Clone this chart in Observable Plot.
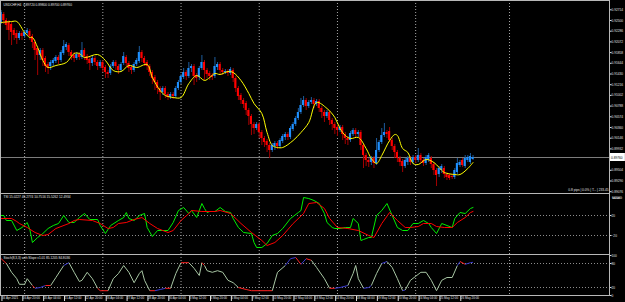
<!DOCTYPE html>
<html><head><meta charset="utf-8">
<script src="https://cdn.jsdelivr.net/npm/d3@7"></script>
<script src="https://cdn.jsdelivr.net/npm/@observablehq/plot@0.6"></script>
<style>
html,body{margin:0;padding:0;background:#000;}
#wrap{position:relative;width:625px;height:302px;overflow:hidden;background:#000;}
#wrap>div{position:absolute;left:0;}
svg{display:block;}
</style></head><body>
<div id="wrap"><div id="p0" style="top:0"></div><div id="p1" style="top:193px"></div><div id="p2" style="top:254px"></div></div>
<script>
// ---------- data (H4 bars, index 0 = first visible bar) ----------
const open = [0.9246,0.9262,0.9250,0.9246,0.9242,0.9230,0.9224,0.9214,0.9224,0.9218,
0.9224,0.9228,0.9218,0.9206,0.9194,0.9180,0.9190,0.9174,0.9162,0.9158,
0.9164,0.9168,0.9176,0.9170,0.9184,0.9196,0.9200,0.9186,0.9180,0.9174,
0.9182,0.9176,0.9190,0.9178,0.9172,0.9164,0.9174,0.9166,0.9158,0.9166,
0.9156,0.9146,0.9144,0.9158,0.9166,0.9158,0.9150,0.9164,0.9176,0.9164,
0.9156,0.9150,0.9162,0.9168,0.9186,0.9174,0.9166,0.9158,0.9146,0.9136,
0.9126,0.9114,0.9106,0.9114,0.9102,0.9096,0.9102,0.9098,0.9114,0.9126,
0.9136,0.9146,0.9138,0.9154,0.9158,0.9140,0.9136,0.9154,0.9166,0.9150,
0.9144,0.9140,0.9138,0.9156,0.9162,0.9150,0.9146,0.9148,0.9144,0.9150,
0.9134,0.9114,0.9100,0.9090,0.9084,0.9070,0.9058,0.9042,0.9034,0.9042,
0.9026,0.9014,0.9008,0.9000,0.8990,0.8998,0.9004,0.8998,0.9008,0.9016,
0.9022,0.9016,0.9032,0.9042,0.9054,0.9066,0.9080,0.9090,0.9078,0.9086,
0.9090,0.9082,0.9088,0.9074,0.9066,0.9058,0.9066,0.9050,0.9042,0.9036,
0.9030,0.9036,0.9022,0.9014,0.9010,0.9022,0.9030,0.9022,0.9026,0.9000,
0.8980,0.8970,0.8966,0.8974,0.8964,0.8990,0.9006,0.9020,0.9026,0.9028,
0.9010,0.8998,0.8986,0.8974,0.8968,0.8958,0.8966,0.8974,0.8966,0.8976,
0.8970,0.8980,0.8970,0.8964,0.8970,0.8974,0.8962,0.8950,0.8942,0.8950,
0.8954,0.8942,0.8940,0.8938,0.8936,0.8946,0.8960,0.8970,0.8958,0.8970,
0.8966,0.8972];
const close = [0.9266,0.9250,0.9240,0.9230,0.9226,0.9220,0.9214,0.9224,0.9218,0.9226,
0.9230,0.9218,0.9206,0.9190,0.9180,0.9190,0.9170,0.9158,0.9154,0.9166,
0.9170,0.9176,0.9170,0.9186,0.9198,0.9202,0.9186,0.9178,0.9174,0.9182,
0.9176,0.9190,0.9178,0.9170,0.9164,0.9174,0.9166,0.9158,0.9166,0.9154,
0.9146,0.9142,0.9158,0.9166,0.9158,0.9150,0.9162,0.9178,0.9164,0.9154,
0.9150,0.9162,0.9170,0.9186,0.9174,0.9164,0.9158,0.9146,0.9134,0.9126,
0.9114,0.9106,0.9114,0.9102,0.9096,0.9102,0.9098,0.9114,0.9126,0.9138,
0.9146,0.9138,0.9154,0.9158,0.9138,0.9134,0.9154,0.9166,0.9150,0.9142,
0.9138,0.9136,0.9158,0.9162,0.9150,0.9146,0.9148,0.9144,0.9152,0.9134,
0.9114,0.9098,0.9090,0.9082,0.9070,0.9058,0.9042,0.9034,0.9042,0.9026,
0.9014,0.9006,0.9000,0.8990,0.9000,0.9004,0.8998,0.9010,0.9018,0.9022,
0.9016,0.9034,0.9042,0.9054,0.9066,0.9080,0.9090,0.9078,0.9086,0.9090,
0.9082,0.9088,0.9074,0.9066,0.9058,0.9066,0.9050,0.9042,0.9034,0.9030,
0.9036,0.9022,0.9014,0.9010,0.9024,0.9030,0.9022,0.9026,0.9000,0.8980,
0.8970,0.8966,0.8974,0.8964,0.8990,0.9006,0.9020,0.9026,0.9022,0.9010,
0.8998,0.8986,0.8974,0.8966,0.8958,0.8970,0.8974,0.8966,0.8976,0.8970,
0.8980,0.8970,0.8964,0.8976,0.8980,0.8962,0.8950,0.8940,0.8954,0.8958,
0.8942,0.8936,0.8934,0.8936,0.8950,0.8964,0.8966,0.8960,0.8974,0.8976,
0.8978,0.8976];
const high = [0.9270,0.9266,0.9254,0.9250,0.9246,0.9234,0.9230,0.9228,0.9228,0.9230,
0.9234,0.9232,0.9222,0.9210,0.9198,0.9194,0.9194,0.9178,0.9166,0.9170,
0.9174,0.9180,0.9180,0.9190,0.9210,0.9206,0.9204,0.9190,0.9186,0.9186,
0.9186,0.9206,0.9194,0.9182,0.9176,0.9178,0.9178,0.9170,0.9170,0.9170,
0.9160,0.9150,0.9162,0.9170,0.9170,0.9162,0.9166,0.9186,0.9180,0.9168,
0.9160,0.9166,0.9174,0.9198,0.9190,0.9178,0.9170,0.9162,0.9150,0.9140,
0.9130,0.9118,0.9118,0.9118,0.9106,0.9106,0.9106,0.9118,0.9130,0.9142,
0.9154,0.9150,0.9166,0.9162,0.9162,0.9144,0.9158,0.9180,0.9170,0.9154,
0.9148,0.9144,0.9176,0.9166,0.9166,0.9154,0.9152,0.9152,0.9156,0.9154,
0.9138,0.9118,0.9104,0.9094,0.9088,0.9074,0.9062,0.9046,0.9046,0.9046,
0.9030,0.9018,0.9012,0.9004,0.9004,0.9008,0.9008,0.9014,0.9022,0.9026,
0.9026,0.9038,0.9046,0.9058,0.9074,0.9094,0.9098,0.9094,0.9090,0.9096,
0.9094,0.9092,0.9092,0.9078,0.9070,0.9070,0.9070,0.9054,0.9046,0.9040,
0.9040,0.9040,0.9026,0.9018,0.9028,0.9034,0.9034,0.9030,0.9030,0.9004,
0.8984,0.8974,0.8978,0.8978,0.9014,0.9010,0.9034,0.9044,0.9030,0.9036,
0.9014,0.9002,0.8990,0.8978,0.8972,0.8974,0.8978,0.8978,0.8980,0.8980,
0.8994,0.8984,0.8974,0.8980,0.8984,0.8978,0.8966,0.8954,0.8958,0.8962,
0.8958,0.8946,0.8944,0.8942,0.8954,0.8974,0.8970,0.8974,0.8980,0.8980,
0.8984,0.8980];
const low = [0.9242,0.9242,0.9230,0.9210,0.9200,0.9210,0.9202,0.9210,0.9210,0.9214,
0.9220,0.9210,0.9194,0.9170,0.9140,0.9170,0.9158,0.9146,0.9142,0.9150,
0.9158,0.9164,0.9162,0.9166,0.9180,0.9190,0.9178,0.9170,0.9166,0.9170,
0.9170,0.9172,0.9170,0.9162,0.9150,0.9158,0.9160,0.9150,0.9154,0.9146,
0.9134,0.9134,0.9140,0.9154,0.9150,0.9142,0.9146,0.9160,0.9158,0.9146,
0.9142,0.9146,0.9158,0.9164,0.9166,0.9158,0.9150,0.9138,0.9122,0.9110,
0.9102,0.9090,0.9100,0.9094,0.9090,0.9092,0.9092,0.9094,0.9110,0.9122,
0.9132,0.9130,0.9134,0.9146,0.9120,0.9126,0.9130,0.9150,0.9130,0.9134,
0.9130,0.9130,0.9134,0.9150,0.9140,0.9140,0.9142,0.9138,0.9140,0.9126,
0.9106,0.9090,0.9082,0.9074,0.9060,0.9040,0.9020,0.9022,0.9030,0.9014,
0.9000,0.8996,0.8986,0.8974,0.8986,0.8990,0.8992,0.8994,0.9004,0.9010,
0.9010,0.9012,0.9028,0.9038,0.9050,0.9062,0.9076,0.9070,0.9074,0.9082,
0.9074,0.9078,0.9066,0.9054,0.9046,0.9054,0.9040,0.9030,0.9022,0.9018,
0.9026,0.9010,0.9002,0.9000,0.9006,0.9018,0.9014,0.9016,0.8990,0.8954,
0.8958,0.8956,0.8960,0.8954,0.8960,0.8986,0.9002,0.9016,0.9014,0.9006,
0.8990,0.8974,0.8966,0.8958,0.8946,0.8954,0.8960,0.8960,0.8962,0.8964,
0.8966,0.8964,0.8958,0.8960,0.8966,0.8954,0.8940,0.8918,0.8936,0.8944,
0.8934,0.8930,0.8930,0.8932,0.8932,0.8942,0.8956,0.8956,0.8954,0.8966,
0.8962,0.8970];

// moving average (yellow), read at these bars
const maBar = [0,4,6,9,11,12,14,16,18,21,25,28,30,32,37,40,43,46,49,52,56,58,61,63,66,69,72,75,78,80,82,84,87,89,92,95,97,100,102,104,106,108,112,115,118,121,125,128,130,132,134,137,140,142,144,146,149,151,152,154,156,158,160,163,166,168,170,174,176,179,181];
const maValue = [0.9246,0.9248,0.9248,0.9226,0.9216,0.9216,0.9196,0.9170,0.9156,0.9160,0.9166,0.9184,0.9184,0.9176,0.9182,0.9170,0.9150,0.9148,0.9160,0.9156,0.9162,0.9136,0.9110,0.9100,0.9096,0.9096,0.9124,0.9140,0.9130,0.9136,0.9144,0.9142,0.9148,0.9146,0.9130,0.9104,0.9084,0.9064,0.9026,0.9000,0.8996,0.8996,0.9010,0.9026,0.9046,0.9086,0.9074,0.9056,0.9034,0.9020,0.9014,0.9016,0.8994,0.8974,0.8964,0.8980,0.9010,0.9022,0.9020,0.8994,0.8986,0.8964,0.8962,0.8972,0.8966,0.8956,0.8946,0.8942,0.8942,0.8954,0.8966];

// TSI panel
const tsiBar = [0,1,2,4,6,8,10,11,12,14,16,18,20,22,24,26,28,30,32,34,37,38,40,42,45,47,48,49,51,53,55,56,58,59,60,62,64,66,68,70,72,73,75,77,78,79,80,82,84,86,88,89,91,93,96,97,98,100,102,104,106,108,111,114,115,116,118,120,122,124,125,127,128,130,132,134,135,137,138,139,141,142,144,146,148,150,152,154,156,158,160,162,164,165,167,169,171,173,174,176,178,180,181];
const tsiValue = [20,20,10,10,-10,-4,6,-8,-34,-24,-16,-6,0,4,20,6,6,16,24,12,12,0,-16,0,10,16,26,14,10,20,24,-4,-22,-16,-10,-10,-10,6,30,36,24,30,16,44,34,26,28,28,36,28,26,14,-4,-14,-16,-34,-44,-44,-36,-20,-16,-6,14,26,30,56,54,50,44,24,6,-4,-6,-6,-4,-4,14,4,-30,-28,-24,-24,20,30,44,20,-4,-10,-10,4,4,10,4,-4,-16,4,0,-4,14,26,24,34,36];
const sigBar = [0,4,6,7,10,13,16,18,21,26,28,30,35,38,41,43,45,48,51,54,57,60,64,66,69,72,73,77,82,84,88,92,96,100,102,105,108,112,116,118,121,124,126,129,133,137,141,143,146,149,152,155,157,160,162,165,167,170,173,175,178,180,181];
const sigValue = [14,14,8,4,-4,-14,-20,-18,-6,4,10,12,10,4,-6,-4,4,6,12,16,4,-6,-14,-10,10,24,30,28,28,30,24,4,-14,-30,-40,-34,-20,4,24,44,46,34,14,-4,-6,-10,-20,-24,4,26,10,-4,-4,-2,4,4,-2,-4,-4,6,16,26,28];

// Stochastic panel
const stochBar = [0,2,4,6,7,9,10,12,13,15,17,19,21,24,26,28,30,31,33,35,37,38,41,43,45,47,49,51,53,54,55,57,59,61,63,65,67,69,72,74,76,77,78,79,81,83,85,87,89,91,94,96,99,102,104,106,109,111,113,115,117,119,121,124,126,128,130,133,135,136,137,139,141,142,144,146,148,150,152,154,155,157,159,161,163,165,167,169,171,173,175,176,178,180,181];
const stochValue = [92,80,58,42,28,28,42,25,18,20,25,25,45,75,82,58,35,38,58,42,18,12,12,42,55,75,58,32,55,62,38,12,12,15,18,18,55,82,82,68,50,82,75,62,58,62,58,38,32,20,15,12,12,12,12,58,75,92,95,78,92,88,70,42,18,18,20,25,55,75,42,18,20,25,55,80,85,70,42,12,14,38,48,58,58,38,12,38,45,45,75,85,78,82,83];

// axes / labels
const priceTicks = [0.92714,0.92500,0.92286,0.92072,0.91858,0.91644,0.91430,0.91216,0.91002,0.90788,0.90574,0.90360,0.90146,0.89932,0.89504,0.89290,0.89076];
const tsiTicks = [20,-20];
const stochTicks = [100,80,20,0];
const gridBars = [9,39,69,99,129,159,195];
const dateTickBars = [0,8,16,24,32,40,48,56,64,72,80,88,96,104,112,120,128,136,144,152,160,168,176];
const dateLabels = ["16 Apr 2021","16 Apr 20:00","20 Apr 04:00","21 Apr 12:00","22 Apr 20:00","26 Apr 04:00","27 Apr 12:00","28 Apr 20:00","30 Apr 04:00","3 May 12:00","4 May 20:00","6 May 04:00","7 May 12:00","10 May 20:00","12 May 04:00","13 May 12:00","14 May 20:00","18 May 04:00","19 May 12:00","20 May 20:00","24 May 04:00","25 May 12:00","26 May 20:00"];
const symbol = "USDCHF,H4";
const tsiTitle = "TSI 15.0227 46.2774 10.7516 15.5262 12.4934";
const stochTitle = "Stoch(8,3,3) with Slope v1.01 85.1205 84.8036";
const infoText = "0.8 pips | 0.0% | T... | 233.45";

// ---------- build ----------
const bars = close.map((c, i) => ({i, open: open[i], high: high[i], low: low[i], close: c}));
const last = bars[bars.length - 1];
const ma = maBar.map((b, k) => ({bar: b, value: maValue[k]}));
const tsi = tsiBar.map((b, k) => ({bar: b, value: tsiValue[k]}));
const sig = sigBar.map((b, k) => ({bar: b, value: sigValue[k]}));
const stoch = stochBar.map((b, k) => ({bar: b, value: stochValue[k]}));
const segs = d3.pairs(stoch).map(([a, b]) => {
  const zone = (a.value <= 25 && b.value <= 25) || (a.value >= 75 && b.value >= 75);
  return {a, b, color: zone ? (b.value > a.value ? "#3a3ad0" : "#ff2020") : "#a8c6a4"};
});
const labelByBar = new Map(dateTickBars.map((b, k) => [b, dateLabels[k]]));

const xDomain = [-0.25, 233.35];
const FS = 3.2;      // axis / title text
const FD = 3.0;      // date labels
const txt = "#e6e6e6";
const frameC = "#b8b8b8";
const gridMark = () => Plot.ruleX(gridBars, {stroke: "#a8a8a8", strokeDasharray: "1,2", strokeWidth: 1});
const baseStyle = {background: "#000", color: "#e0e0e0", fontFamily: "Liberation Sans, Arial, sans-serif", overflow: "visible"};
const title = `${symbol}  ${last.open.toFixed(5)} ${last.high.toFixed(5)} ${last.low.toFixed(5)} ${last.close.toFixed(5)}`;

const main = Plot.plot({
  width: 625, height: 193, margin: 0, marginRight: 16,
  x: {domain: xDomain, axis: null},
  y: {domain: [0.8904, 0.9290]},
  color: {type: "identity"},
  style: baseStyle,
  marks: [
    gridMark(),
    Plot.ruleY([last.close], {stroke: "#7c7c7c"}),
    Plot.ruleX(bars, {x: "i", y1: "low", y2: "high", stroke: d => d.close >= d.open ? "#1d5c9c" : "#a30000", strokeWidth: 1}),
    Plot.rect(bars, {x1: d => d.i - 0.4, x2: d => d.i + 0.4, y1: "open", y2: "close", fill: d => d.close >= d.open ? "#1e90ff" : "#ff0000"}),
    Plot.line(ma, {x: "bar", y: "value", stroke: "#ffff00", strokeWidth: 1, curve: "catmull-rom"}),
    Plot.axisY(priceTicks, {anchor: "right", tickSize: 1.5, tickPadding: 0.5, tickFormat: d => d.toFixed(5), fontSize: FS}),
    Plot.rect([last.close], {x1: xDomain[1] + 0.15, x2: xDomain[1] + 6.1, y1: d => d - 0.0008, y2: d => d + 0.0008, fill: "#ffffff"}),
    Plot.text([last.close], {x: xDomain[1] + 0.6, y: d => d, text: d => d.toFixed(5), fill: "#000", fontSize: FS, textAnchor: "start"}),
    Plot.text([title], {frameAnchor: "top-left", dx: 3, dy: 3, fill: txt, fontSize: FS, textAnchor: "start", lineAnchor: "top"}),
    Plot.text([infoText], {frameAnchor: "bottom-right", dx: -1, dy: -3, fill: txt, fontSize: FS, textAnchor: "end", lineAnchor: "bottom"}),
    Plot.frame({stroke: frameC})
  ]
});
document.getElementById("p0").append(main);

const p1 = Plot.plot({
  width: 625, height: 61, margin: 0, marginRight: 16,
  x: {domain: xDomain, axis: null},
  y: {domain: [-58, 64]},
  style: baseStyle,
  marks: [
    gridMark(),
    Plot.ruleY(tsiTicks, {stroke: "#8c8c8c", strokeDasharray: "1,2"}),
    Plot.line(tsi, {x: "bar", y: "value", stroke: "#00ee00", strokeWidth: 1}),
    Plot.line(sig, {x: "bar", y: "value", stroke: "#ff0000", strokeWidth: 1}),
    Plot.axisY(tsiTicks, {anchor: "right", tickSize: 1.5, tickPadding: 0.5, fontSize: FS}),
    Plot.text(["64.000"], {frameAnchor: "top-right", dx: 2.5, dy: 3.5, fill: txt, fontSize: FS, textAnchor: "start", lineAnchor: "top"}),
    Plot.text([tsiTitle], {frameAnchor: "top-left", dx: 3, dy: 2, fill: txt, fontSize: FS, textAnchor: "start", lineAnchor: "top"}),
    Plot.frame({stroke: frameC})
  ]
});
document.getElementById("p1").append(p1);

const p2 = Plot.plot({
  width: 625, height: 48, margin: 0, marginRight: 16, marginBottom: 7,
  x: {domain: xDomain},
  y: {domain: [0, 102.5]},
  color: {type: "identity"},
  style: baseStyle,
  marks: [
    gridMark(),
    Plot.ruleY([80, 20], {stroke: "#8c8c8c", strokeDasharray: "1,2"}),
    Plot.link(segs, {x1: d => d.a.bar, y1: d => d.a.value, x2: d => d.b.bar, y2: d => d.b.value, stroke: "color", strokeWidth: 1}),
    Plot.axisY(stochTicks, {anchor: "right", tickSize: 1.5, tickPadding: 0.5, fontSize: FS}),
    Plot.axisX(dateTickBars, {anchor: "bottom", tickSize: 6, tickPadding: -4.5, tickFormat: d => labelByBar.get(d), textAnchor: "start", dx: 0.8, fontSize: FD}),
    Plot.text([stochTitle], {frameAnchor: "top-left", dx: 3, dy: 2, fill: txt, fontSize: FS, textAnchor: "start", lineAnchor: "top"}),
    Plot.frame({stroke: frameC})
  ]
});
document.getElementById("p2").append(p2);
</script>
</body></html>
